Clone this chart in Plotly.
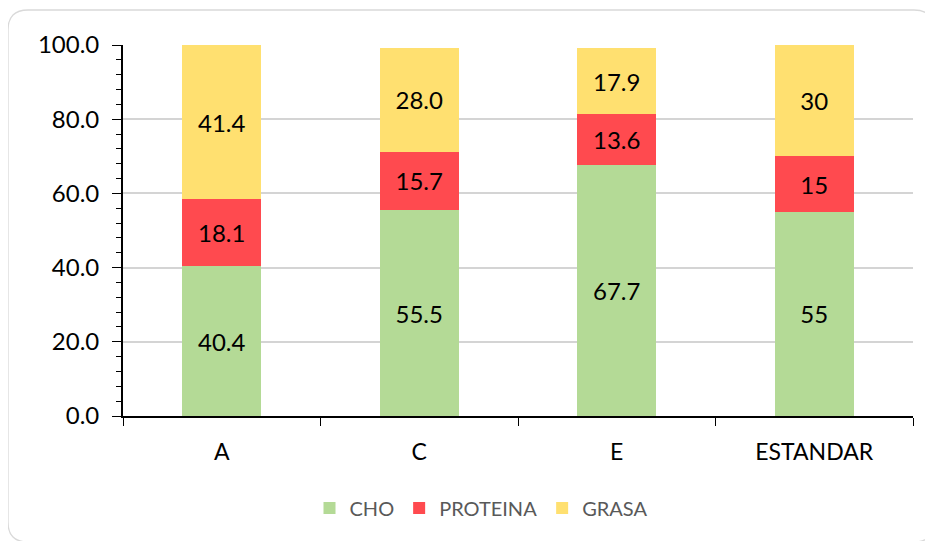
import plotly.graph_objects as go

categories = ["A", "C", "E", "ESTANDAR"]
cho = [40.4, 55.5, 67.7, 55]
proteina = [18.1, 15.7, 13.6, 15]
grasa = [41.4, 28.0, 17.9, 30]
cho_labels = ["40.4", "55.5", "67.7", "55"]
proteina_labels = ["18.1", "15.7", "13.6", "15"]
grasa_labels = ["41.4", "28.0", "17.9", "30"]
y_ticks = [0, 20, 40, 60, 80, 100]

# page body has an 8px margin, so the figure is sized to fit inside the window
OFF = 8
W, H = 933 - OFF, 541 - OFF
L, T = 123 - OFF, 45 - OFF
R = W - (913 - OFF)
B = H - (416 - OFF)
PW, PH = W - L - R, H - T - B
FONT = "Lato"

def px(x):
    return (x - OFF - L) / PW

def py(y):
    return (H + OFF - B - y) / PH

fig = go.Figure()
series = [
    ("CHO", cho, cho_labels, "#b4da96"),
    ("PROTEINA", proteina, proteina_labels, "#ff4a4f"),
    ("GRASA", grasa, grasa_labels, "#ffe070"),
]
for name, vals, labs, col in series:
    fig.add_trace(go.Bar(
        name=name, x=categories, y=vals, text=labs,
        textposition="inside", insidetextanchor="middle",
        textangle=0,
        textfont=dict(family=FONT, size=24, color="black"),
        marker=dict(color=col, line=dict(width=0)),
        width=0.4,
    ))

# rounded border (reference pixel coordinates; runs off the right/bottom edge)
x0, x1, y0, y1, r = 8, 934, 10, 542, 20
path = (f"M {px(x0 + r)},{py(y0)} L {px(x1 - r)},{py(y0)} "
        f"Q {px(x1)},{py(y0)} {px(x1)},{py(y0 + r)} "
        f"L {px(x1)},{py(y1 - r)} Q {px(x1)},{py(y1)} {px(x1 - r)},{py(y1)} "
        f"L {px(x0 + r)},{py(y1)} Q {px(x0)},{py(y1)} {px(x0)},{py(y1 - r)} "
        f"L {px(x0)},{py(y0 + r)} Q {px(x0)},{py(y0)} {px(x0 + r)},{py(y0)} Z")
fig.add_shape(type="path", path=path, xref="paper", yref="paper",
              line=dict(color="#d9d9d9", width=1.3), layer="below")

fig.update_layout(
    width=W, height=H, autosize=False,
    margin=dict(l=L, r=R, t=T, b=B, autoexpand=False),
    barmode="stack",
    plot_bgcolor="white", paper_bgcolor="white",
    font=dict(family=FONT, size=22, color="black"),
    showlegend=True,
    legend=dict(orientation="h", x=px(481), xanchor="center", y=py(508), yanchor="middle",
                font=dict(family=FONT, size=20, color="#595959"),
                itemwidth=30, traceorder="normal"),
    xaxis=dict(type="category", range=[-0.5, 3.5], tickson="boundaries",
               ticks="outside", ticklen=8, tickwidth=1.3, tickcolor="black",
               showline=True, linecolor="black", linewidth=1.8,
               showgrid=False, ticklabelstandoff=14,
               tickfont=dict(family=FONT, size=23, color="black")),
    xaxis2=dict(overlaying="x", anchor="y", range=[-0.5, 3.5], tickvals=[0, 1, 2, 3],
                ticks="inside", ticklen=7, tickwidth=1.3, tickcolor="black",
                showticklabels=False, showgrid=False, showline=False, zeroline=False),
    xaxis3=dict(overlaying="x", anchor="y", range=[-0.5, 3.5], tickvals=[0, 1, 2, 3],
                ticks="outside", ticklen=6, tickwidth=1.3, tickcolor="black",
                showticklabels=False, showgrid=False, showline=False, zeroline=False),
    yaxis=dict(range=[0, 100], tickvals=y_ticks, tickformat=".1f",
               ticks="outside", ticklen=9, tickwidth=1.3, tickcolor="black",
               minor=dict(dtick=4, ticks="outside", ticklen=5, tickwidth=1.3,
                          tickcolor="black", showgrid=False),
               showline=True, linecolor="black", linewidth=1.8,
               showgrid=True, gridcolor="#d4d4d4", gridwidth=1.6,
               zeroline=False, ticklabelstandoff=8,
               tickfont=dict(family=FONT, size=24, color="black")),
    yaxis2=dict(overlaying="y", anchor="x", side="left", range=[0, 100], dtick=4,
                ticks="inside", ticklen=5, tickwidth=1.3, tickcolor="black",
                showticklabels=False, showgrid=False, showline=False, zeroline=False),
)

fig.write_html("out.html")
